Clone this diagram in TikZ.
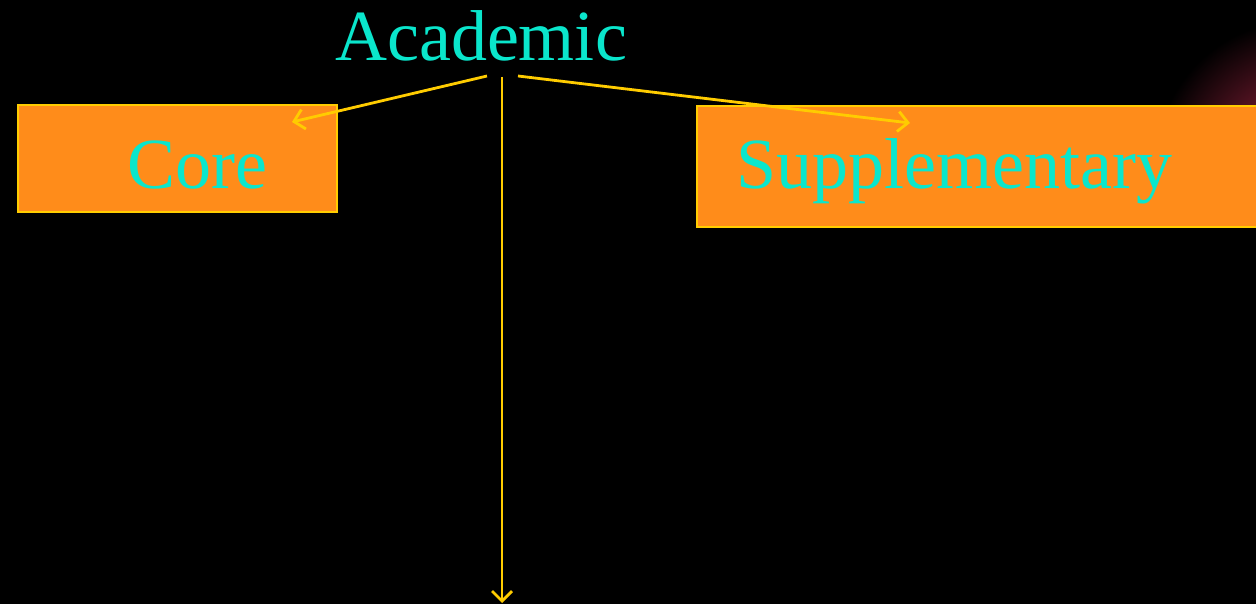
\documentclass[tikz,border=0pt]{standalone}
\usepackage{fontspec}
\setmainfont{Liberation Serif}
\usetikzlibrary{arrows.meta}
\definecolor{scritta}{HTML}{0AE6CC}
\definecolor{arancio}{HTML}{FF8C1A}
\definecolor{giallo}{HTML}{FFCC00}
\definecolor{bagliore}{HTML}{B02848}
\begin{document}
\begin{tikzpicture}[x=1pt, y=-1pt,
    box/.style = {draw=giallo, line width=2.5pt, fill=arancio, inner sep=0pt},
    lab/.style = {text=scritta, font=\fontsize{72}{80}\selectfont, inner sep=0pt},
    freccia/.style = {draw=giallo, line width=2.8pt, -{Straight Barb[length=10pt, width=20pt, line width=2.8pt]}}]
    % sfondo nero e bagliore in alto a destra
    \fill[black] (0,0) rectangle (1256,604);
    \useasboundingbox (0,0) rectangle (1256,604);
    \begin{scope}
        \clip (0,0) rectangle (1256,110);
        \shade[inner color=bagliore, outer color=black] (1300,165) circle (145);
    \end{scope}

    \node[box, minimum width=319, minimum height=107] (core) at (177.5,158.5) {};
    \node[box, minimum width=565, minimum height=121] (supp) at (979.5,166.5) {};

    \node[lab, anchor=base] (academic) at (481,61) {Academic};
    \node[lab, anchor=base] (coretxt) at (197,189) {Core};
    \node[lab, anchor=base] (supptxt) at (954,189) {Supplementary};

    \coordinate (sx) at (487,76);
    \coordinate (cx) at (502,77);
    \coordinate (dx) at (518,76);
    \coordinate (finecore) at (292,122);
    \coordinate (finesupp) at (910,123);
    \coordinate (fine) at (502,603);

    \draw[freccia] (sx) to (finecore);
    \draw[freccia] (cx) to (fine);
    \draw[freccia] (dx) to (finesupp);
\end{tikzpicture}
\end{document}
